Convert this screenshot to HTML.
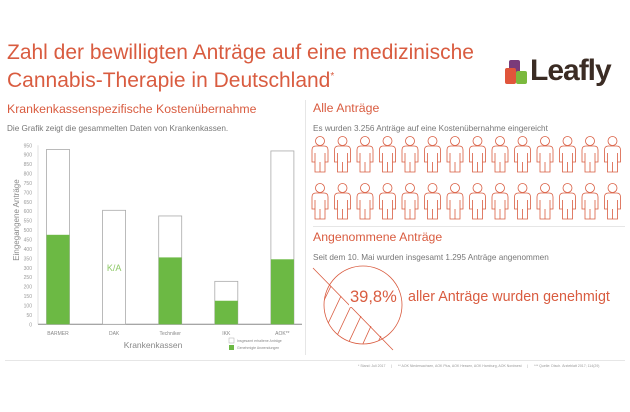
<!DOCTYPE html>
<html><head><meta charset="utf-8"><style>
body{margin:0;width:630px;height:412px;background:#fff;font-family:"Liberation Sans",sans-serif;overflow:hidden;position:relative}
.t{position:absolute;white-space:nowrap}
</style></head><body>
<div class="t" style="left:7px;top:41px;font-size:21px;line-height:24px;color:#d95c40">Zahl der bewilligten Anträge auf eine medizinische<br>Cannabis-Therapie in Deutschland<sup style="font-size:10px">*</sup></div>
<div style="position:absolute;left:505px;top:56px;width:122px;height:40px">
<div style="position:absolute;left:4px;top:4px;width:11px;height:13px;background:#7a3b7a;border-radius:2px"></div>
<div style="position:absolute;left:0;top:12px;width:11px;height:16px;background:#e0553b;border-radius:2px"></div>
<div style="position:absolute;left:11px;top:15px;width:11px;height:13px;background:#7bb93d;border-radius:2px"></div>
<div class="t" style="left:25px;top:-2px;font-size:30px;font-weight:bold;color:#3b2c24;letter-spacing:-1px">Leafly</div></div>
<div class="t" style="left:7px;top:102px;font-size:12.3px;color:#d95c40">Krankenkassenspezifische Kostenübernahme</div>
<div class="t" style="left:7px;top:124px;font-size:8.2px;color:#777">Die Grafik zeigt die gesammelten Daten von Krankenkassen.</div>
<div style="position:absolute;left:305px;top:100px;width:1px;height:255px;background:#e6e6e6"></div>
<div style="position:absolute;left:5px;top:360px;width:620px;height:1px;background:#e6e6e6"></div>
<div class="t" style="left:358px;top:364px;font-size:3.5px;color:#999">* Stand: Juli 2017 &nbsp;&nbsp;&nbsp;&nbsp; | &nbsp;&nbsp;&nbsp;&nbsp; ** AOK Niedersachsen, AOK Plus, AOK Hessen, AOK Hamburg, AOK Nordwest &nbsp;&nbsp;&nbsp;&nbsp; | &nbsp;&nbsp;&nbsp;&nbsp; *** Quelle: Dtsch. Ärzteblatt 2017; 114(29)</div>

<svg id="chart" width="310" height="220" style="position:absolute;left:0;top:140px"></svg>

<div class="t" style="left:313px;top:101px;font-size:12.3px;color:#d95c40">Alle Anträge</div>
<div class="t" style="left:313px;top:124px;font-size:8.2px;color:#777">Es wurden 3.256 Anträge auf eine Kostenübernahme eingereicht</div>
<svg id="people" width="320" height="100" style="position:absolute;left:305px;top:132px"></svg>
<div style="position:absolute;left:313px;top:226px;width:312px;height:1px;background:#e6e6e6"></div>
<div class="t" style="left:313px;top:230px;font-size:12.3px;color:#d95c40">Angenommene Anträge</div>
<div class="t" style="left:313px;top:253px;font-size:8.2px;color:#777">Seit dem 10. Mai wurden insgesamt 1.295 Anträge angenommen</div>
<svg width="110" height="100" style="position:absolute;left:305px;top:260px">
<defs><clipPath id="cc"><circle cx="58" cy="45" r="39"/></clipPath></defs>
<circle cx="58" cy="45" r="39" fill="none" stroke="#d95c40" stroke-width="0.8"/>
<line x1="8" y1="8" x2="88" y2="90" stroke="#d95c40" stroke-width="0.8"/>
<g clip-path="url(#cc)" stroke="#d95c40" stroke-width="0.8">
<line x1="26" y1="26" x2="12" y2="55"/><line x1="36" y1="36" x2="20" y2="70"/><line x1="46" y1="46" x2="30" y2="80"/><line x1="56" y1="56" x2="42" y2="86"/><line x1="66" y1="66" x2="56" y2="88"/><line x1="76" y1="76" x2="70" y2="88"/></g>
</svg>
<div class="t" style="left:349px;top:288px;font-size:16.5px;color:#d95c40;background:#fff;padding:0 1px">39,8%</div>
<div class="t" style="left:408px;top:289px;font-size:14.3px;color:#d95c40">aller Anträge wurden genehmigt</div>

<script>
const categories=["BARMER","DAK","Techniker","IKK","AOK**"];
const totals=[928,605,575,228,920];
const approved=[475,null,355,125,345];
const ticks=[0,50,100,150,200,250,300,350,400,450,500,550,600,650,700,750,800,850,900,950];
const NS="http://www.w3.org/2000/svg";
const svg=document.getElementById('chart');
function mk(t,a,p){const e=document.createElementNS(NS,t);for(const k in a)e.setAttribute(k,a[k]);(p||svg).appendChild(e);return e;}
const y0=184.3,y1=5.3,x0=38,x1=302;
function y(v){return y0-(v/950)*(y0-y1);}
function xc(i){return 58+i*56.1;}
ticks.forEach(t=>{const e=mk('text',{x:32,y:y(t)+2,'text-anchor':'end','font-size':5,fill:'#999'});e.textContent=t;

});
const ax=mk('line',{x1:x0,y1:y0,x2:x1,y2:y0,stroke:'#888','stroke-width':1});


const ay=mk('line',{x1:x0,y1:y1,x2:x0,y2:y0,stroke:'#ccc','stroke-width':0.6});


categories.forEach((c,i)=>{
 const b=mk('rect',{x:xc(i)-11.5,y:y(totals[i]),width:23,height:y0-y(totals[i]),fill:'#fff',stroke:'#aaa','stroke-width':0.8});
 
 
 if(approved[i]!=null){const g=mk('rect',{x:xc(i)-11.5,y:y(approved[i]),width:23,height:y0-y(approved[i]),fill:'#6cb944'});
 
 }
 else{const k=mk('text',{x:xc(i),y:y(300)+3,'text-anchor':'middle','font-size':9,fill:'#8cc865'});k.textContent='K/A';
 
 }
 const l=mk('text',{x:xc(i),y:195,'text-anchor':'middle','font-size':5,fill:'#888'});l.textContent=c;
 
 
});
const yt=mk('text',{x:0,y:0,transform:'translate(19,80) rotate(-90)','text-anchor':'middle','font-size':8,fill:'#888'});yt.textContent='Eingegangene Anträge';


const xt=mk('text',{x:153,y:208,'text-anchor':'middle','font-size':8.5,fill:'#888'});xt.textContent='Krankenkassen';


const lg1=mk('rect',{x:229,y:198,width:5,height:5,fill:'#fff',stroke:'#aaa','stroke-width':0.5});


const lt1=mk('text',{x:237,y:202,'font-size':3.5,fill:'#888'});lt1.textContent='Insgesamt erhaltene Anträge';


const lg2=mk('rect',{x:229,y:205,width:5,height:5,fill:'#6cb944'});


const lt2=mk('text',{x:237,y:209,'font-size':3.5,fill:'#888'});lt2.textContent='Genehmigte Anwendungen';



const ps=document.getElementById('people');
for(let r=0;r<2;r++)for(let c=0;c<14;c++){
 const cx=15+c*22.5,ty=4+r*47;
 const g=mk('g',{fill:'none',stroke:'#d95c40','stroke-width':0.8},ps);
 
 
 mk('circle',{cx:cx,cy:ty+5,r:4.5},g);
 mk('path',{d:`M${cx-4} ${ty+10} h8 q4 0 4 4 v12 h-3 v10 h-10 v-10 h-3 v-12 q0 -4 4 -4 z M${cx} ${ty+26} v10 M${cx-5} ${ty+17} v9 M${cx+5} ${ty+17} v9`},g);
}
</script>
</body></html>
